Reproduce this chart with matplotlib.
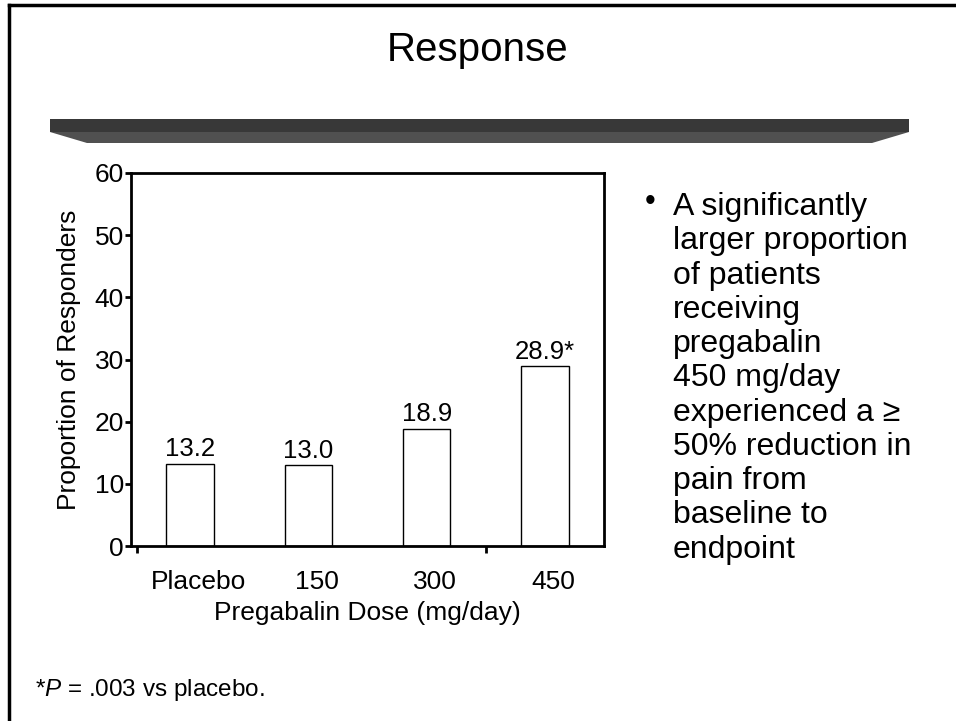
import matplotlib.pyplot as plt
from matplotlib.patches import Polygon
from matplotlib.lines import Line2D

plt.rcParams['font.family'] = ['Liberation Sans', 'DejaVu Sans']
plt.rcParams['mathtext.fontset'] = 'custom'
plt.rcParams['mathtext.it'] = 'Liberation Sans:italic'
plt.rcParams['mathtext.rm'] = 'Liberation Sans'

doses = ['Placebo', '150', '300', '450']
responders = [13.2, 13.0, 18.9, 28.9]
bar_labels = ['13.2', '13.0', '18.9', '28.9*']
bullet_lines = ['A significantly', 'larger proportion', 'of patients', 'receiving',
                'pregabalin', '450 mg/day', 'experienced a \u2265', '50% reduction in',
                'pain from', 'baseline to', 'endpoint']

W, H = 956, 721
fig = plt.figure(figsize=(W / 100, H / 100), dpi=100)

def px(x, y):
    return (x / W, 1 - y / H)

# slide border (left and top)
fig.add_artist(Line2D([px(9, 0)[0], px(9, 0)[0]], [px(0, 5)[1], 0], color='black', lw=2.5))
fig.add_artist(Line2D([px(9, 0)[0], 1], [px(0, 5)[1], px(0, 5)[1]], color='black', lw=2.5))

# title
fig.text(0.5, px(0, 50)[1], 'Response', ha='center', va='center', fontsize=29)

# header bar
fig.add_artist(Polygon([px(50, 119), px(909, 119), px(909, 132), px(50, 132)],
                       closed=True, facecolor='#383838', edgecolor='none'))
fig.add_artist(Polygon([px(50, 132), px(909, 132), px(872, 143), px(87, 143)],
                       closed=True, facecolor='#505050', edgecolor='none'))

ax = fig.add_axes([131 / W, 1 - 546 / H, (604 - 131) / W, (546 - 173) / H])
x = list(range(len(doses)))
bars = ax.bar(x, responders, width=0.4, color='white', edgecolor='black', linewidth=1)
for b, lab in zip(bars, bar_labels):
    ax.text(b.get_x() + b.get_width() / 2, b.get_height() + 0.4, lab,
            ha='center', va='bottom', fontsize=18.5)

ax.set_xlim(-0.5, 3.5)
ax.set_ylim(0, 60)
ax.set_yticks(range(0, 61, 10))
ax.set_xticks([i + 0.07 for i in x])
ax.set_xticklabels(doses)
ax.set_xticks([-0.45, 2.5], minor=True)
ax.tick_params(axis='x', which='major', length=0, pad=17, labelsize=19)
ax.tick_params(axis='x', which='minor', length=5, width=2, direction='out')
ax.tick_params(axis='y', length=4, width=2, pad=1, labelsize=19)
for s in ax.spines.values():
    s.set_linewidth(2)
ax.set_xlabel('Pregabalin Dose (mg/day)', fontsize=19, labelpad=5)
ax.set_ylabel('Proportion of Responders', fontsize=19, labelpad=10)

# bullet text
fig.text(*px(650, 202), '\u2022', ha='center', va='center', fontsize=22)
fig.text(*px(673, 192), '\n'.join(bullet_lines), ha='left', va='top',
         fontsize=23, linespacing=1.185)

# footnote
fig.text(*px(35, 690), r'*$\it{P}$ = .003 vs placebo.', ha='left', va='center', fontsize=17.5)

fig.savefig('out.png', dpi=100)
